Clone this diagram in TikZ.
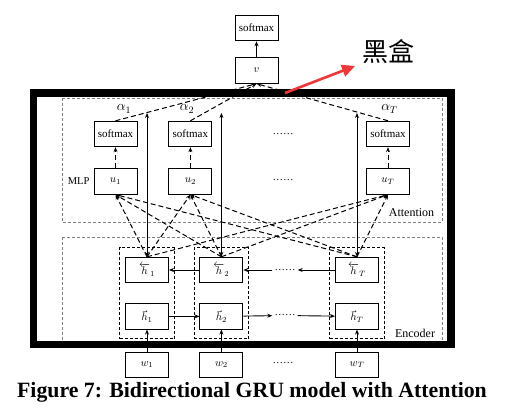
\RequirePackage{fix-cm}
\documentclass[tikz,border=0pt]{standalone}
\usepackage{fontspec}
\setmainfont{Liberation Serif}
\newfontfamily\cjk{Noto Sans CJK SC}
\usetikzlibrary{positioning, arrows.meta, fit}

\begin{document}
\begin{tikzpicture}[
    x=1pt, y=-1pt,
    box/.style={rectangle, draw, line width=0.9pt, minimum width=43pt, minimum height=25.5pt,
                font=\fontsize{11}{12}\selectfont, inner sep=1pt},
    txt/.style={font=\fontsize{10.5}{12}\selectfont, inner sep=2pt},
    lbl/.style={font=\fontsize{12}{14}\selectfont, inner sep=1pt},
    alpha/.style={font=\fontsize{14}{16}\selectfont, inner sep=1pt},
    region/.style={draw=gray, dash pattern=on 3pt off 2pt, line width=0.8pt},
    group/.style={draw, dash pattern=on 3pt off 2pt, line width=0.8pt, inner xsep=5.5pt, inner ysep=9pt},
    arr/.style={-{Stealth[length=5pt, width=4pt]}, line width=0.9pt},
    barr/.style={{Stealth[length=5pt, width=4pt]}-{Stealth[length=5pt, width=4pt]}, line width=0.9pt},
    darr/.style={arr, line width=1pt, dash pattern=on 5pt off 3pt},
    redarr/.style={-{Triangle[length=13pt, width=12pt]}, line width=2.6pt, draw={rgb,255:red,240;green,55;blue,55}},
]
\useasboundingbox (0,0) rectangle (510,411);

% Regions
\draw[region] (62,98) rectangle (442,222);
\draw[region] (62,237) rectangle (442,346);
\node[lbl] (att) at (411.5,213) {Attention};
\node[lbl] (enc) at (415,333) {Encoder};

% Attention layer
\node[box] (sm1) at (115.5,134) {softmax};
\node[box, right=31pt of sm1] (sm2) {softmax};
\node[box] (smT) at (388,134) {softmax};
\node[box, below=21pt of sm1] (u1) {$u_1$};
\node[box, below=21pt of sm2] (u2) {$u_2$};
\node[box, below=21pt of smT] (uT) {$u_T$};
\node[txt] (dsm) at (283,134) {\ldots\ldots};
\node[txt] (du) at (283,180.5) {\ldots\ldots};
\node[txt, left=2pt of u1] (mlp) {MLP};

\node[alpha] (a1) at (124,109) {$\alpha_1$};
\node[alpha] (a2) at (187,109) {$\alpha_2$};
\node[alpha] (aT) at (389.5,109) {$\alpha_T$};

% Output
\node[box] (v) at (256.5,70.5) {$v$};
\node[box, above=16pt of v] (out) {softmax};

% Encoder
\node[box] (hb1) at (147,270) {$\overleftarrow{h}_1$};
\node[box, right=30.5pt of hb1] (hb2) {$\overleftarrow{h}_2$};
\node[box] (hbT) at (357,270) {$\overleftarrow{h}_T$};
\node[box, below=20pt of hb1] (hf1) {$\vec{h}_1$};
\node[box, below=20pt of hb2] (hf2) {$\vec{h}_2$};
\node[box, below=20pt of hbT] (hfT) {$\vec{h}_T$};
\node[txt] (dhb) at (285,270) {\ldots\ldots};
\node[txt] (dhf) at (285,315.5) {\ldots\ldots};

\node[group, fit=(hb1)(hf1)] (g1) {};
\node[group, fit=(hb2)(hf2)] (g2) {};
\node[group, fit=(hbT)(hfT)] (gT) {};

% Input
\node[box, below=22pt of hf1] (w1) {$w_1$};
\node[box, below=22pt of hf2] (w2) {$w_2$};
\node[box, below=22pt of hfT] (wT) {$w_T$};
\node[txt] (dw) at (283,363) {\ldots\ldots};

% Arrows
\draw[arr] (w1) -- (hf1);
\draw[arr] (w2) -- (hf2);
\draw[arr] (wT) -- (hfT);
\draw[arr] (hf1) -- (hf2);
\draw[arr] (hf2) -- (dhf);
\draw[arr] (dhf) -- (hfT);
\draw[arr] (hb2) -- (hb1);
\draw[arr] (dhb) -- (hb2);
\draw[arr] (hbT) -- (dhb);

\coordinate (t1) at (hb1.north |- 0,113);
\coordinate (t2) at (hb2.north |- 0,113);
\coordinate (tT) at (hbT.north |- 0,113);
\draw[barr] (t1) -- (hb1.north);
\draw[barr] (t2) -- (hb2.north);
\draw[barr] (tT) -- (hbT.north);

\foreach \h in {hb1,hb2,hbT}
  \foreach \u in {u1,u2,uT}
    \draw[darr] (\h.north) -- (\u.south);

\draw[darr] (u1) -- (sm1);
\draw[darr] (u2) -- (sm2);
\draw[darr] (uT) -- (smT);
\draw[darr] (sm1.north) -- (v.south);
\draw[darr] (sm2.north) -- (v.south);
\draw[darr] (smT.north) -- (v.south);
\draw[arr] (v) -- (out);

% Black box
\draw[line width=7.5pt] (33.5,93) rectangle (451,344.5);
\node[font=\cjk\fontsize{26}{28}\selectfont, inner sep=0pt] (bb) at (388,52) {黑盒};
\coordinate (rs) at (285,93);
\coordinate (re) at (355,66);
\draw[redarr] (rs) -- (re);

% Caption
\node[font=\bfseries\fontsize{21.8}{24}\selectfont] (cap) at (252,392) {Figure 7: Bidirectional GRU model with Attention};

\end{tikzpicture}
\end{document}
